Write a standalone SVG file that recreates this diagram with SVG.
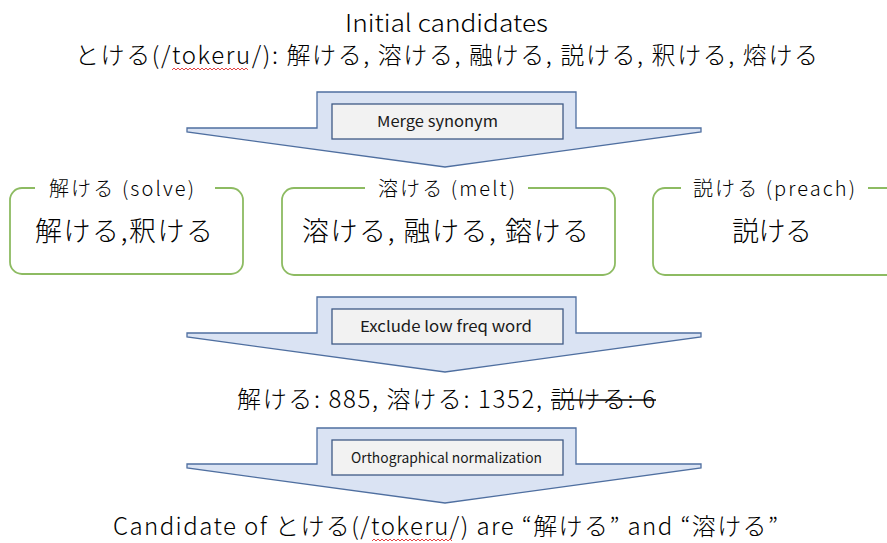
<svg xmlns="http://www.w3.org/2000/svg" width="887" height="543" viewBox="0 0 887 543">
<style>
  text { font-family: "Noto Sans CJK JP", "Noto Sans", sans-serif; fill: #000; font-weight: 300; }
  .big { font-size: 24px; }
  .title { font-size: 20px; }
  .content { font-size: 27px; }
  .step { font-size: 15px; fill: #1a1a1a; font-weight: 400; }
  .arrow { fill: #dae3f3; stroke: #4f6fa0; stroke-width: 1.3; }
  .stepbox { fill: #f2f2f2; stroke: #3f5a85; stroke-width: 1.3; }
  .grp { fill: none; stroke: #8dbb62; stroke-width: 1.8; }
  .squig { fill: none; stroke: #e03030; stroke-width: 0.9; }
</style>
<defs>
  <path id="arrowShape" d="M187,128 H317 V92 H576 V128 H701 V132 L445,167 L187,132 Z"/>
</defs>

<g id="header">
  <text class="big" x="345" y="32" textLength="203" lengthAdjust="spacingAndGlyphs">Initial candidates</text>
  <text class="big" x="75" y="64" textLength="743">とける(/tokeru/): 解ける, 溶ける, 融ける, 説ける, 釈ける, 熔ける</text>
  <path class="squig" d="M172,70 l2,-2 l2,2 l2,-2 l2,2 l2,-2 l2,2 l2,-2 l2,2 l2,-2 l2,2 l2,-2 l2,2 l2,-2 l2,2 l2,-2 l2,2 l2,-2 l2,2 l2,-2 l2,2 l2,-2 l2,2 l2,-2 l2,2 l2,-2 l2,2 l2,-2 l2,2 l2,-2 l2,2 l2,-2 l2,2 l2,-2 l2,2 l2,-2 l2,2 l2,-2 l2,2"/>
</g>

<g id="connectors">
  <g id="step1">
    <use href="#arrowShape" class="arrow"/>
    <rect class="stepbox" x="332" y="104" width="231" height="35"/>
    <text class="step" x="377" y="127" textLength="121" lengthAdjust="spacingAndGlyphs">Merge synonym</text>
  </g>
  <g id="step2" transform="translate(0,205)">
    <use href="#arrowShape" class="arrow"/>
    <rect class="stepbox" x="332" y="104" width="231" height="35"/>
    <text class="step" x="360" y="127" textLength="172" lengthAdjust="spacingAndGlyphs">Exclude low freq word</text>
  </g>
  <g id="step3" transform="translate(0,336)">
    <use href="#arrowShape" class="arrow"/>
    <rect class="stepbox" x="332" y="104" width="231" height="35"/>
    <text class="step" x="351" y="127" textLength="191" lengthAdjust="spacingAndGlyphs" style="font-size:14px">Orthographical normalization</text>
  </g>
</g>

<g id="group-solve">
  <path class="grp" d="M35,188 H22 A12,12 0 0 0 10,200 V262 A12,12 0 0 0 22,274 H231 A12,12 0 0 0 243,262 V200 A12,12 0 0 0 231,188 H215"/>
  <text class="title" x="49" y="196" textLength="145">解ける (solve)</text>
  <text class="content" x="35" y="241" textLength="178">解ける,釈ける</text>
</g>

<g id="group-melt">
  <path class="grp" d="M365,188 H294 A12,12 0 0 0 282,200 V263 A12,12 0 0 0 294,275 H603 A12,12 0 0 0 615,263 V200 A12,12 0 0 0 603,188 H528"/>
  <text class="title" x="378" y="196" textLength="137">溶ける (melt)</text>
  <text class="content" x="302" y="241" textLength="287">溶ける, 融ける, 鎔ける</text>
</g>

<g id="group-preach">
  <path class="grp" d="M681,188 H665 A12,12 0 0 0 653,200 V263 A12,12 0 0 0 665,275 H890 M868,188 H890"/>
  <text class="title" x="693" y="196" textLength="162">説ける (preach)</text>
  <text class="content" x="732" y="241" textLength="80">説ける</text>
</g>

<g id="freq">
  <text class="big" x="237" y="408" textLength="418">解ける: 885, 溶ける: 1352, 説ける: 6</text>
  <line x1="551" y1="400" x2="656" y2="400" stroke="#000" stroke-width="1.5"/>
</g>

<g id="result">
  <text class="big" x="113" y="535" textLength="665">Candidate of とける(/tokeru/) are “解ける” and “溶ける”</text>
  <path class="squig" d="M372,541 l2,-2 l2,2 l2,-2 l2,2 l2,-2 l2,2 l2,-2 l2,2 l2,-2 l2,2 l2,-2 l2,2 l2,-2 l2,2 l2,-2 l2,2 l2,-2 l2,2 l2,-2 l2,2 l2,-2 l2,2 l2,-2 l2,2 l2,-2 l2,2 l2,-2 l2,2 l2,-2 l2,2 l2,-2 l2,2 l2,-2 l2,2 l2,-2 l2,2 l2,-2 l2,2 l2,-2 l2,2"/>
</g>
</svg>
